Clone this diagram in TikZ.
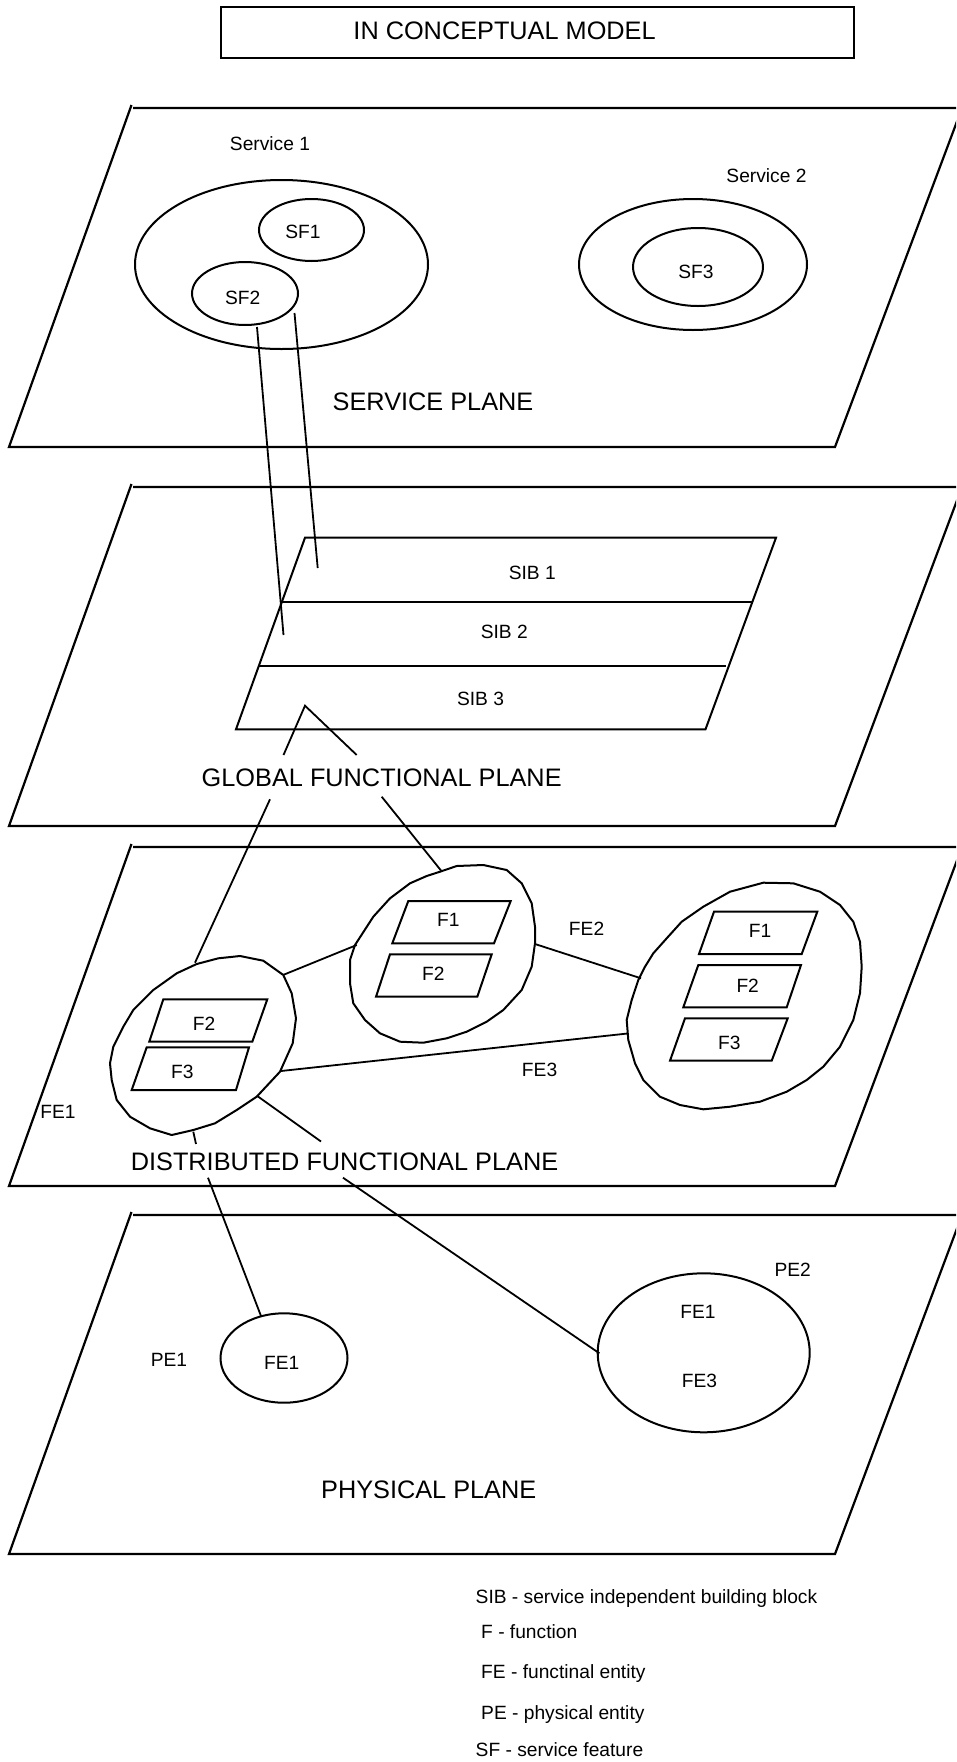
\documentclass[tikz,border=0pt]{standalone}
\usepackage{fontspec}
\setmainfont{Liberation Sans}
\usetikzlibrary{shapes.geometric}
\begin{document}
\begin{tikzpicture}[x=1pt,y=-1pt,
  planeline/.style={line width=2.2pt, line join=miter},
  shapeline/.style={line width=2pt, line join=round},
  conn/.style={line width=1.8pt},
  bigtxt/.style={font=\fontsize{25.3}{30}\selectfont, inner sep=0pt, text height=18.1pt, text depth=0pt},
  smalltxt/.style={font=\fontsize{19.2}{23}\selectfont, inner sep=0pt, text height=13.7pt, text depth=0pt},
  ell/.style={ellipse, draw, line width=2pt, inner sep=0pt},
  titlebox/.style={draw, line width=2pt, inner sep=0pt},
]
\useasboundingbox (0,0) rectangle (956,1762);
\clip (0,0) rectangle (956,1762);

% ---------- title ----------
\node[titlebox, minimum width=633pt, minimum height=51.6pt] (titlebox) at (537.2,32.5) {};
\node[bigtxt] (title) at (504.6,30.7) {IN CONCEPTUAL MODEL};

% ---------- planes ----------
\draw[planeline] (131.5,105) -- (9,447) -- (835,447) -- (962,108) (133,108) -- (965,108);
\draw[planeline] (131.5,484) -- (9,826) -- (835,826) -- (962,487) (133,487) -- (965,487);
\draw[planeline] (131.5,844) -- (9,1186) -- (835,1186) -- (962,847) (133,847) -- (965,847);
\draw[planeline] (131.5,1212) -- (9,1554) -- (835,1554) -- (962,1215) (133,1215) -- (965,1215);

% ---------- service plane ----------
\node[smalltxt] (svc1lab) at (270,144) {Service 1};
\node[ell, minimum width=293pt, minimum height=169pt] (svc1) at (281.5,264.5) {};
\node[ell, minimum width=105pt, minimum height=62pt] (sf1) at (311.5,230) {};
\node[smalltxt] (sf1lab) at (303,231.7) {SF1};
\node[ell, minimum width=106pt, minimum height=63pt] (sf2) at (245,293.5) {};
\node[smalltxt] (sf2lab) at (242.7,298) {SF2};
\node[smalltxt] (svc2lab) at (766.5,175.7) {Service 2};
\node[ell, minimum width=228pt, minimum height=131pt] (svc2) at (693,264.5) {};
\node[ell, minimum width=130pt, minimum height=78pt] (sf3) at (698,267) {};
\node[smalltxt] (sf3lab) at (696,271.7) {SF3};
\node[bigtxt] (splane) at (433,401.7) {SERVICE PLANE};

% ---------- global functional plane ----------
\draw[shapeline, line join=miter] (305,537.7) -- (776,537.7) -- (705.5,729.3) -- (236,729.3) -- cycle;
\draw[shapeline] (282,602.3) -- (752,602.3);
\draw[shapeline] (258.5,666) -- (726,666);
\node[smalltxt] (sib1) at (532.3,572.7) {SIB 1};
\node[smalltxt] (sib2) at (504.3,631.7) {SIB 2};
\node[smalltxt] (sib3) at (480.5,698.3) {SIB 3};
\node[bigtxt] (gplane) at (381.7,777.3) {GLOBAL FUNCTIONAL PLANE};

% ---------- distributed functional plane ----------
% FE1
\draw[shapeline] (153.3,990) -- (176.7,973.3) -- (196.7,964) -- (218.3,958.3) -- (240,956) -- (263.3,960.7) -- (283.3,975) -- (291.7,993.3) -- (296,1018.3) -- (292.7,1043.3) -- (280,1071.7) -- (256.7,1096.7) -- (236.7,1110) -- (215,1123.3) -- (193.3,1130) -- (171.7,1135) -- (150,1128.3) -- (130,1116.7) -- (116.7,1100) -- (111.7,1080) -- (110,1063.3) -- (113.3,1046.7) -- (123.3,1026.7) -- (133.3,1010) -- cycle;
\draw[shapeline, line join=miter] (163.3,999.3) -- (267.3,999.3) -- (252.3,1041.7) -- (149.3,1041.7) -- cycle;
\node[smalltxt] (fe1f2) at (204,1023.3) {F2};
\draw[shapeline, line join=miter] (146.7,1047.3) -- (249,1047.3) -- (236,1090) -- (131.7,1090) -- cycle;
\node[smalltxt] (fe1f3) at (182.3,1071.7) {F3};
\node[smalltxt] (fe1lab) at (58,1111.7) {FE1};

% FE2
\draw[shapeline] (440,871.7) -- (456.7,866) -- (483.3,865) -- (506.7,870) -- (521.7,883.3) -- (531.7,903.3) -- (535,926.7) -- (535,943.3) -- (531.7,966.7) -- (521.7,990) -- (503.3,1010) -- (486.7,1021.7) -- (466.7,1031.7) -- (446.7,1038.3) -- (423.3,1042.7) -- (400,1041.7) -- (380,1033.3) -- (365,1020) -- (353.3,1003.3) -- (350,983.3) -- (350,960) -- (355,945) -- (373.3,916.7) -- (390,898.3) -- (410,883.3) -- (426.7,876) -- cycle;
\draw[shapeline, line join=miter] (408.3,901) -- (510.7,901) -- (494,943.3) -- (392.3,943.3) -- cycle;
\node[smalltxt] (fe2f1) at (448.3,919.3) {F1};
\draw[shapeline, line join=miter] (390,954.3) -- (491.7,954.3) -- (477.3,996.7) -- (376,996.7) -- cycle;
\node[smalltxt] (fe2f2) at (433.3,974) {F2};
\node[smalltxt] (fe2lab) at (586.6,928.3) {FE2};

% FE3
\draw[shapeline] (763.3,882.7) -- (793.3,883.3) -- (820,891.7) -- (840,905) -- (853.3,921.7) -- (860,941.7) -- (861.7,966.7) -- (860,993.3) -- (853.3,1020) -- (840,1046.7) -- (823.3,1066.7) -- (806.7,1080) -- (786.7,1091.7) -- (760,1101.7) -- (730,1106.7) -- (703.3,1109.3) -- (680,1105) -- (660,1096.7) -- (643.3,1080) -- (635,1063.3) -- (628.3,1040) -- (626.7,1020) -- (631.7,1000) -- (638.3,980) -- (645,966.7) -- (653.3,953.3) -- (666.7,938.3) -- (681.7,921.7) -- (703.3,906.7) -- (730,891.7) -- cycle;
\draw[shapeline, line join=miter] (714,911.7) -- (817.3,911.7) -- (801.7,954) -- (699,954) -- cycle;
\node[smalltxt] (fe3f1) at (760,930.7) {F1};
\draw[shapeline, line join=miter] (698.3,965) -- (801,965) -- (786.7,1007.3) -- (683.3,1007.3) -- cycle;
\node[smalltxt] (fe3f2) at (747.7,986) {F2};
\draw[shapeline, line join=miter] (685,1018.3) -- (787.7,1018.3) -- (771.7,1060.7) -- (670,1060.7) -- cycle;
\node[smalltxt] (fe3f3) at (729.3,1042.3) {F3};
\node[smalltxt] (fe3lab) at (539.6,1069.3) {FE3};

\node[bigtxt] (dplane) at (344.5,1161.7) {DISTRIBUTED FUNCTIONAL PLANE};

% ---------- physical plane ----------
\node[ell, minimum width=127pt, minimum height=89.4pt] (pe1) at (284,1358) {};
\node[smalltxt] (pe1fe1) at (281.7,1362.3) {FE1};
\node[smalltxt] (pe1lab) at (169,1360) {PE1};
\node[ell, minimum width=212pt, minimum height=159pt] (pe2) at (703.7,1352.8) {};
\node[smalltxt] (pe2lab) at (792.7,1269.3) {PE2};
\node[smalltxt] (pe2fe1) at (698,1311.7) {FE1};
\node[smalltxt] (pe2fe3) at (699.4,1381) {FE3};
\node[bigtxt] (pplane) at (428.7,1489.3) {PHYSICAL PLANE};

% ---------- connector end points ----------
\coordinate (sf2a) at (257,327);
\coordinate (sib2pt) at (283.5,635);
\coordinate (sf2b) at (294.5,313);
\coordinate (sib1pt) at (317.7,568);
\coordinate (sib3pt) at (305,705.7);
\coordinate (gA) at (283.5,755);
\coordinate (gB) at (356.7,755);
\coordinate (gC) at (270,799.3);
\coordinate (gD) at (381.7,796.7);
\coordinate (fe1top) at (195,962.7);
\coordinate (fe2top) at (441,870.5);
\coordinate (fe1r) at (283,975);
\coordinate (fe2l) at (356.7,945);
\coordinate (fe2r) at (535,944);
\coordinate (fe3l) at (641,978.3);
\coordinate (fe1lr) at (281,1071);
\coordinate (fe3ll) at (627.5,1033.5);
\coordinate (fe1b) at (193.3,1131.7);
\coordinate (dA) at (196,1144);
\coordinate (fe1br) at (258,1096.5);
\coordinate (dB) at (321,1141.5);
\coordinate (dC) at (208,1177.7);
\coordinate (pe1pt) at (261,1316);
\coordinate (dD) at (343,1177.7);
\coordinate (pe2pt) at (599.4,1353.3);

% ---------- connectors ----------
\draw[conn] (sf2a) -- (sib2pt);
\draw[conn] (sf2b) -- (sib1pt);
\draw[conn] (gA) -- (sib3pt) -- (gB);
\draw[conn] (gC) -- (fe1top);
\draw[conn] (gD) -- (fe2top);
\draw[conn] (fe1r) -- (fe2l);
\draw[conn] (fe2r) -- (fe3l);
\draw[conn] (fe1lr) -- (fe3ll);
\draw[conn] (fe1b) -- (dA);
\draw[conn] (fe1br) -- (dB);
\draw[conn] (dC) -- (pe1pt);
\draw[conn] (dD) -- (pe2pt);

% ---------- legend ----------
\node[smalltxt, anchor=west] (leg1) at (475.5,1597) {SIB - service independent building block};
\node[smalltxt, anchor=west] (leg2) at (481,1632) {F - function};
\node[smalltxt, anchor=west] (leg3) at (481,1672) {FE - functinal entity};
\node[smalltxt, anchor=west] (leg4) at (481,1713) {PE - physical entity};
\node[smalltxt, anchor=west] (leg5) at (475.5,1750) {SF - service feature};
\end{tikzpicture}
\end{document}
